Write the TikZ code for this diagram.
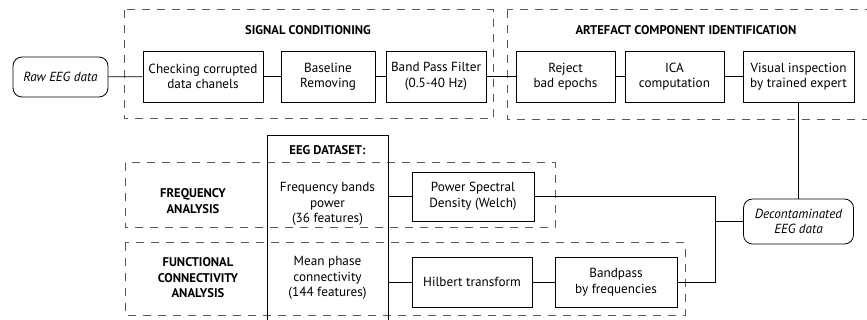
\documentclass[tikz,border=0pt]{standalone}
\usepackage{fontspec}
\setmainfont{PT Sans}
\begin{document}
\begin{tikzpicture}[x=1pt,y=-1pt,
  every node/.style={font=\fontsize{13.2}{15.5}\selectfont},
  proc/.style={draw, line width=0.8pt, align=center, inner sep=1pt},
  terminal/.style={draw, line width=0.8pt, rounded corners=9pt, align=center,
    font=\fontsize{13.2}{15.5}\selectfont\itshape, inner sep=1pt},
  group/.style={draw=black!65, line width=1pt, dash pattern=on 8pt off 7pt},
  heading/.style={font=\fontsize{12.6}{15.5}\selectfont\bfseries, align=center},
  link/.style={line width=0.8pt}]
\useasboundingbox (0,0) rectangle (867,320);

% dashed group frames
\draw[group] (124,10) rectangle (493,119);
\draw[group] (507,10) rectangle (880,120);
\draw[group] (125,163) rectangle (555,228);
\draw[group] (125,243) rectangle (685,315);

\node[heading] (sctitle) at (308,30) {SIGNAL CONDITIONING};
\node[heading] (actitle) at (686,30) {ARTEFACT COMPONENT IDENTIFICATION};
\node[heading] (freqlabel) at (193,201) {FREQUENCY\\ANALYSIS};
\node[heading] (fclabel) at (198,278) {FUNCTIONAL\\CONNECTIVITY\\ANALYSIS};

% EEG dataset column (open at the bottom)
\coordinate (eegL) at (267,0);
\coordinate (eegR) at (388,0);
\draw[link] (267,330) -- (267,135) -- (388,135) -- (388,330);
\node[heading] (eegtitle) at (327.5,150) {EEG DATASET:};
\node[align=center] (freqfeat) at (327.5,204) {Frequency bands\\power\\(36 features)};
\node[align=center] (mpcfeat) at (327.5,278) {Mean phase\\connectivity\\(144 features)};

% top processing chain
\node[terminal, minimum width=95pt, minimum height=40pt] (raw) at (60.5,77) {Raw EEG data};
\node[proc, minimum width=120pt, minimum height=51pt] (check) at (203,76.5) {Checking corrupted\\data chanels};
\node[proc, minimum width=94pt, minimum height=51pt] (base) at (328,76.5) {Baseline\\Removing};
\node[proc, minimum width=100pt, minimum height=51pt] (bpf) at (436,76.5) {Band Pass Filter\\(0.5-40 Hz)};
\node[proc, minimum width=99pt, minimum height=51pt] (reject) at (565.5,76.5) {Reject\\bad epochs};
\node[proc, minimum width=99pt, minimum height=51pt] (ica) at (674.5,76.5) {ICA\\computation};
\node[proc, minimum width=111pt, minimum height=51pt] (visual) at (798.5,76.5) {Visual inspection\\by trained expert};

% lower processing
\node[terminal, minimum width=110pt, minimum height=45pt] (decon) at (798.5,221.5) {Decontaminated\\EEG data};
\node[proc, minimum width=122pt, minimum height=49pt] (psd) at (473,196.5) {Power Spectral\\Density (Welch)};
\node[proc, minimum width=120pt, minimum height=50pt] (hilbert) at (472,282) {Hilbert transform};
\node[proc, minimum width=122pt, minimum height=50pt] (bandpass) at (616,282) {Bandpass\\by frequencies};

% connectors
\draw[link] (raw) -- (check);
\draw[link] (check) -- (base);
\draw[link] (base) -- (bpf);
\draw[link] (bpf) -- (reject);
\draw[link] (reject) -- (ica);
\draw[link] (ica) -- (visual);
\draw[link] (visual) -- (decon);

\coordinate (jn) at (715,0);
\draw[link] (decon.west) -- (decon.west -| jn);
\draw[link] (psd.east) -- (psd.east -| jn) -- (bandpass.east -| jn) -- (bandpass.east);
\draw[link] (psd.west -| eegR) -- (psd.west);
\draw[link] (hilbert.west -| eegR) -- (hilbert.west);
\draw[link] (hilbert) -- (bandpass);
\end{tikzpicture}
\end{document}
